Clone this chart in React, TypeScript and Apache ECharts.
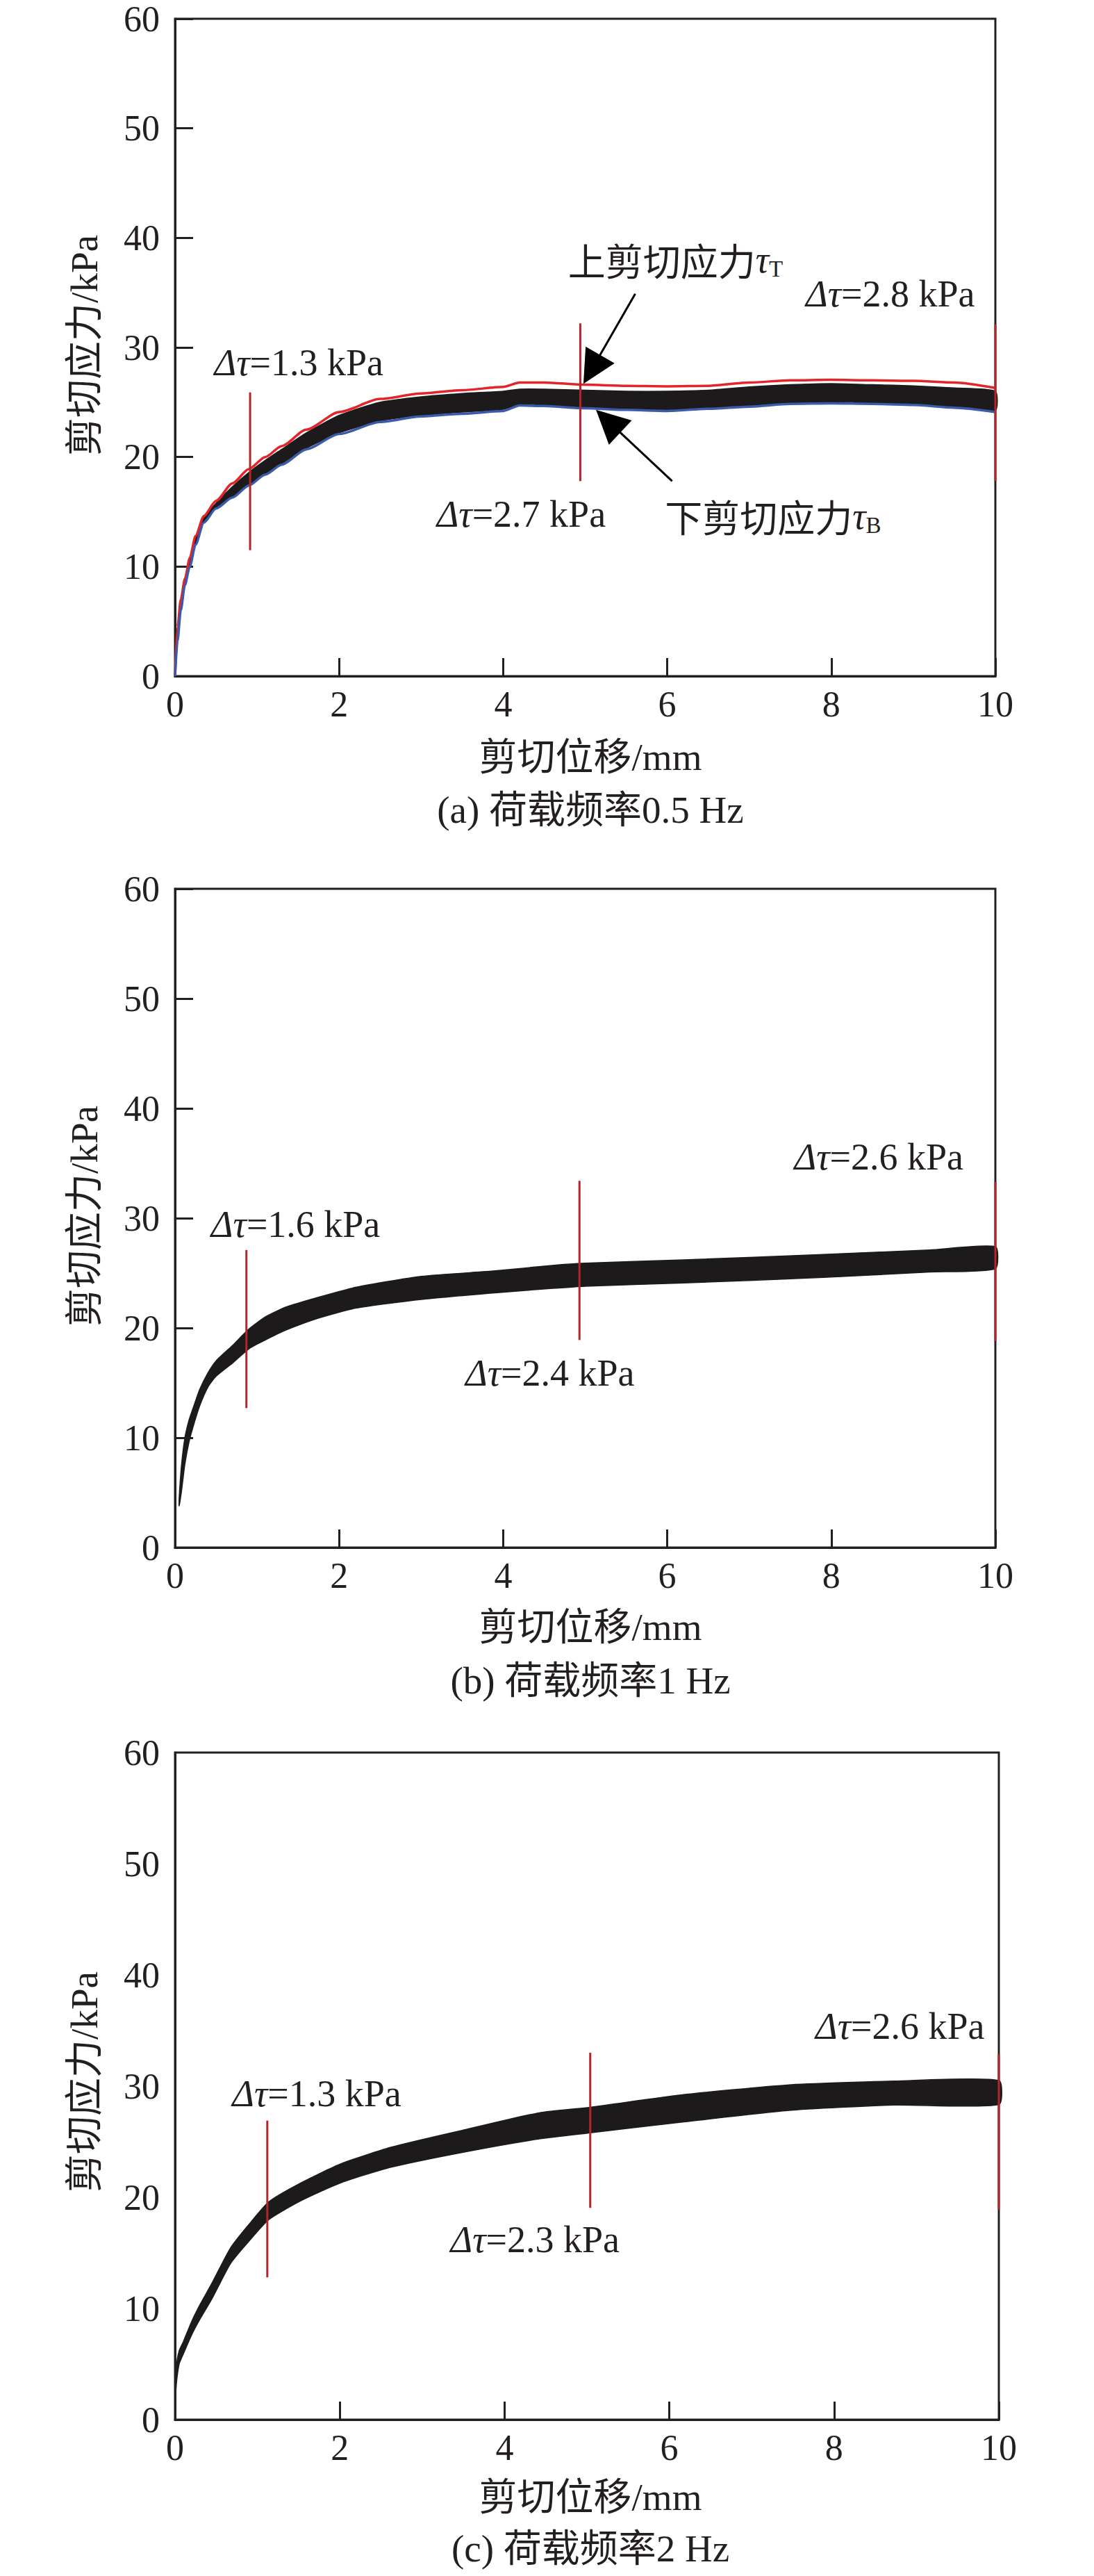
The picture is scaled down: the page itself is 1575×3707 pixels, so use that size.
import React, { useEffect, useRef } from 'react';
import * as echarts from 'echarts';

// ---------- data ----------
// (a) 0.5 Hz
const aX = [0, 0.03, 0.07, 0.12, 0.18, 0.25, 0.35, 0.5, 0.7, 0.9, 1.1, 1.3, 1.6, 2.0, 2.5, 3.0, 3.5, 4.0, 4.2, 4.5, 5.0, 5.5, 6.0, 6.5, 7.0, 7.5, 8.0, 8.5, 9.0, 9.5, 10];
const aTauT = [0, 4.5, 7.0, 8.9, 10.8, 12.8, 14.6, 16.0, 17.6, 18.9, 20.0, 21.0, 22.5, 24.1, 25.3, 25.8, 26.1, 26.4, 26.8, 26.8, 26.6, 26.5, 26.45, 26.5, 26.8, 27.0, 27.05, 27.0, 26.95, 26.8, 26.3];
const aTauB = [0, 3.2, 6.0, 8.3, 10.0, 12.0, 14.0, 15.3, 16.3, 17.4, 18.4, 19.3, 20.7, 22.1, 23.2, 23.7, 23.95, 24.2, 24.7, 24.65, 24.45, 24.3, 24.2, 24.4, 24.6, 24.85, 24.9, 24.85, 24.75, 24.5, 24.1];
const aBandTop = [0, 4.3, 6.8, 8.7, 10.6, 12.6, 14.4, 15.8, 17.3, 18.6, 19.7, 20.7, 22.2, 23.8, 25.0, 25.5, 25.8, 26.0, 26.2, 26.2, 26.1, 26.0, 26.0, 26.1, 26.4, 26.6, 26.7, 26.6, 26.5, 26.3, 26.0];
const aBandBot = [0, 3.3, 6.1, 8.4, 10.1, 12.1, 14.1, 15.4, 16.4, 17.5, 18.5, 19.4, 20.8, 22.2, 23.3, 23.8, 24.1, 24.35, 24.8, 24.75, 24.55, 24.4, 24.3, 24.5, 24.7, 24.95, 25.0, 24.95, 24.85, 24.6, 24.25];

// (b) 1 Hz
const bX = [0.05, 0.08, 0.12, 0.17, 0.22, 0.3, 0.4, 0.5, 0.7, 0.9, 1.1, 1.35, 1.75, 2.2, 3.0, 3.9, 4.6, 5.0, 6.2, 7.9, 9.2, 10];
const bTop = [4.5, 7.6, 10.0, 11.6, 12.7, 14.4, 15.9, 17.0, 18.4, 19.9, 21.0, 21.9, 22.8, 23.7, 24.7, 25.2, 25.7, 25.9, 26.2, 26.7, 27.1, 27.4];
const bBot = [3.8, 5.2, 7.6, 9.6, 11.0, 12.9, 14.6, 15.6, 16.8, 18.1, 18.9, 19.8, 20.9, 21.8, 22.6, 23.2, 23.6, 23.8, 24.1, 24.6, 25.1, 25.4];

// (c) 2 Hz
const cX = [0.0, 0.02, 0.05, 0.1, 0.2, 0.3, 0.45, 0.67, 0.88, 1.14, 1.53, 2.01, 2.62, 3.53, 4.42, 5.04, 6.14, 7.43, 8.73, 10];
const cTop = [2.0, 5.0, 6.2, 7.0, 8.8, 10.3, 12.3, 15.4, 17.4, 19.6, 21.3, 23.0, 24.5, 26.1, 27.6, 28.1, 29.2, 30.1, 30.45, 30.5];
const cBot = [1.5, 3.5, 5.0, 5.9, 7.6, 9.0, 10.9, 14.0, 15.9, 18.0, 19.7, 21.3, 22.7, 24.1, 25.25, 25.8, 26.75, 27.8, 28.3, 28.35];

// red markers: [x, yBottom, yTop]
const aMarkers = [[0.915, 11.5, 25.9], [4.94, 17.8, 32.2], [10, 17.8, 32.1]];
const bMarkers = [[0.87, 12.7, 27.1], [4.93, 18.9, 33.4], [10, 18.8, 33.3]];
const cMarkers = [[1.12, 12.8, 26.9], [5.04, 19.05, 33.0], [10, 18.9, 32.85]];

// Δτ labels: [x, y, value]
const aDelta = [[1.51, 28.6, '1.3'], [4.22, 14.8, '2.7'], [8.72, 34.9, '2.8']];
const bDelta = [[1.47, 29.4, '1.6'], [4.57, 15.9, '2.4'], [8.58, 35.6, '2.6']];
const cDelta = [[1.72, 29.3, '1.3'], [4.37, 16.2, '2.3'], [8.8, 35.4, '2.6']];
const deltas = [aDelta, bDelta, cDelta];

// (a) curve names: [x, y, text, subscript]
const aNames = [[6.1, 38.0, '上剪切应力', 'T'], [7.29, 14.6, '下剪切应力', 'B']];
// (a) arrows: from -> head centre
const aArrows = [
  [[5.61, 34.9], [5.08, 28.0]],
  [[6.06, 17.8], [5.28, 23.27]],
];

const xTitle = '剪切位移/mm';
const yTitle = '剪切应力/kPa';
const captions = ['(a) 荷载频率0.5 Hz', '(b) 荷载频率1 Hz', '(c) 荷载频率2 Hz'];

// ---------- layout / style ----------
const INK = '#231f20';
const BAND = '#1c1a1b';
const MARK = '#b3262c';
const LAT = "'Liberation Serif', serif";
const MIX = "'Liberation Serif', 'Noto Sans CJK SC', serif";
const CJK = "'Noto Sans CJK SC', 'Liberation Serif', sans-serif";

const grids = [
  { left: 252, top: 27, width: 1181, height: 946 },
  { left: 252, top: 1279, width: 1181, height: 948 },
  { left: 252, top: 2522, width: 1186, height: 960 },
];
const yTitleY = [497, 1750, 2996];
const xTitleY = [1089, 2341, 3593];
const captionY = [1165, 2418, 3667];
const yTickShow = [true, true, false];

const rich = {
  d: { fontStyle: 'italic', fontSize: 54, fontFamily: LAT, lineHeight: 60, fill: INK },
  n: { fontSize: 54, fontFamily: LAT, lineHeight: 60, fill: INK },
  c: { fontSize: 54, fontFamily: CJK, lineHeight: 60, fill: INK },
  s: { fontSize: 33, fontFamily: LAT, lineHeight: 38, verticalAlign: 'bottom', fill: INK },
};

function bandSeries(i: number, X: number[], top: number[], bot: number[]) {
  return {
    type: 'custom',
    xAxisIndex: i,
    yAxisIndex: i,
    data: [[X[0], top[0]]],
    silent: true,
    z: 2,
    renderItem: (_p: any, api: any) => {
      const pts: number[][] = [];
      for (let k = 0; k < X.length; k++) pts.push(api.coord([X[k], top[k]]));
      for (let k = X.length - 1; k >= 0; k--) pts.push(api.coord([X[k], bot[k]]));
      return {
        type: 'polygon',
        shape: { points: pts, smooth: 0.2 },
        style: { fill: BAND, stroke: BAND, lineWidth: 1.5 },
      };
    },
  };
}

function markerSeries(i: number, list: number[][]) {
  return list.map((m) => ({
    type: 'line',
    xAxisIndex: i,
    yAxisIndex: i,
    data: [[m[0], m[1]], [m[0], m[2]]],
    symbol: 'none',
    silent: true,
    z: 6,
    lineStyle: { color: MARK, width: 3 },
  }));
}

function buildOption() {
  const xAxis = grids.map((_, i) => ({
    type: 'value',
    gridIndex: i,
    min: 0,
    max: 10,
    interval: 2,
    z: 4,
    axisLine: { show: true, lineStyle: { color: INK, width: 3 } },
    axisTick: { show: true, inside: true, length: 26, lineStyle: { color: INK, width: 3 } },
    axisLabel: { color: INK, fontSize: 52, fontFamily: LAT, margin: 14 },
    splitLine: { show: false },
  }));
  const yAxis = grids.map((_, i) => ({
    type: 'value',
    gridIndex: i,
    min: 0,
    max: 60,
    interval: 10,
    z: 4,
    axisLine: { show: true, lineStyle: { color: INK, width: 3 } },
    axisTick: { show: yTickShow[i], inside: true, length: 26, lineStyle: { color: INK, width: 3 } },
    axisLabel: { color: INK, fontSize: 52, fontFamily: LAT, margin: 22 },
    splitLine: { show: false },
  }));

  const series: any[] = [];
  series.push(bandSeries(0, aX, aBandTop, aBandBot));
  series.push(bandSeries(1, bX, bTop, bBot));
  series.push(bandSeries(2, cX, cTop, cBot));

  series.push({
    type: 'line', name: '上剪切应力', xAxisIndex: 0, yAxisIndex: 0,
    data: aX.map((x, k) => [x, aTauT[k]]), symbol: 'none', smooth: 0.25, smoothMonotone: 'x',
    silent: true, z: 4, lineStyle: { color: '#e3242b', width: 3.5 },
  });
  series.push({
    type: 'line', name: '下剪切应力', xAxisIndex: 0, yAxisIndex: 0,
    data: aX.map((x, k) => [x, aTauB[k]]), symbol: 'none', smooth: 0.25, smoothMonotone: 'x',
    silent: true, z: 4, lineStyle: { color: '#3b5aa9', width: 3.5 },
  });

  series.push(...markerSeries(0, aMarkers));
  series.push(...markerSeries(1, bMarkers));
  series.push(...markerSeries(2, cMarkers));

  series.push({
    type: 'lines',
    coordinateSystem: 'cartesian2d',
    xAxisIndex: 0,
    yAxisIndex: 0,
    silent: true,
    z: 7,
    symbol: ['none', 'triangle'],
    symbolSize: [1, 48],
    lineStyle: { color: '#000000', width: 3, opacity: 1 },
    data: aArrows.map((a) => ({ coords: [a[0], a[1]] })),
  });

  const graphic: any[] = [];
  grids.forEach((g, i) => {
    graphic.push({
      type: 'text', x: 121, y: yTitleY[i], rotation: Math.PI / 2, silent: true,
      style: { text: yTitle, fontSize: 55, fontFamily: MIX, fill: INK, align: 'center', verticalAlign: 'middle' },
    });
    graphic.push({
      type: 'text', x: 850, y: xTitleY[i], silent: true,
      style: { text: xTitle, fontSize: 55, fontFamily: MIX, fill: INK, align: 'center', verticalAlign: 'middle' },
    });
    graphic.push({
      type: 'text', x: 850, y: captionY[i], silent: true,
      style: { text: captions[i], fontSize: 55, fontFamily: MIX, fill: INK, align: 'center', verticalAlign: 'middle' },
    });
  });

  return {
    animation: false,
    backgroundColor: '#ffffff',
    grid: grids.map((g) => ({ ...g, show: true, borderColor: INK, borderWidth: 3, backgroundColor: 'transparent' })),
    xAxis,
    yAxis,
    series,
    graphic,
  };
}

// annotation texts, placed at data coordinates through the chart's own scales
function annotationGraphic(chart: any, base: any[]) {
  const out = base.slice();
  deltas.forEach((list, i) => {
    list.forEach((d: any) => {
      const p = chart.convertToPixel({ gridIndex: i }, [d[0], d[1]]);
      out.push({
        type: 'text', x: p[0], y: p[1], silent: true, z: 100,
        style: { text: `{d|Δτ}{n|=${d[2]} kPa}`, rich, fill: INK, align: 'center', verticalAlign: 'middle' },
      });
    });
  });
  aNames.forEach((d: any) => {
    const p = chart.convertToPixel({ gridIndex: 0 }, [d[0], d[1]]);
    out.push({
      type: 'text', x: p[0], y: p[1], silent: true, z: 100,
      style: { text: `{c|${d[2]}}{d|τ}{s|${d[3]}}`, rich, fill: INK, align: 'center', verticalAlign: 'middle' },
    });
  });
  return out;
}

export default function App() {
  const ref = useRef<HTMLDivElement>(null);
  useEffect(() => {
    document.body.style.margin = '0';
    const chart = echarts.init(ref.current as HTMLDivElement, null, { renderer: 'svg' });
    const option: any = buildOption();
    chart.setOption(option);
    chart.setOption({ graphic: annotationGraphic(chart, option.graphic) } as any);
    return () => chart.dispose();
  }, []);
  return <div ref={ref} style={{ width: 1575, height: 3707, background: '#ffffff' }} />;
}
